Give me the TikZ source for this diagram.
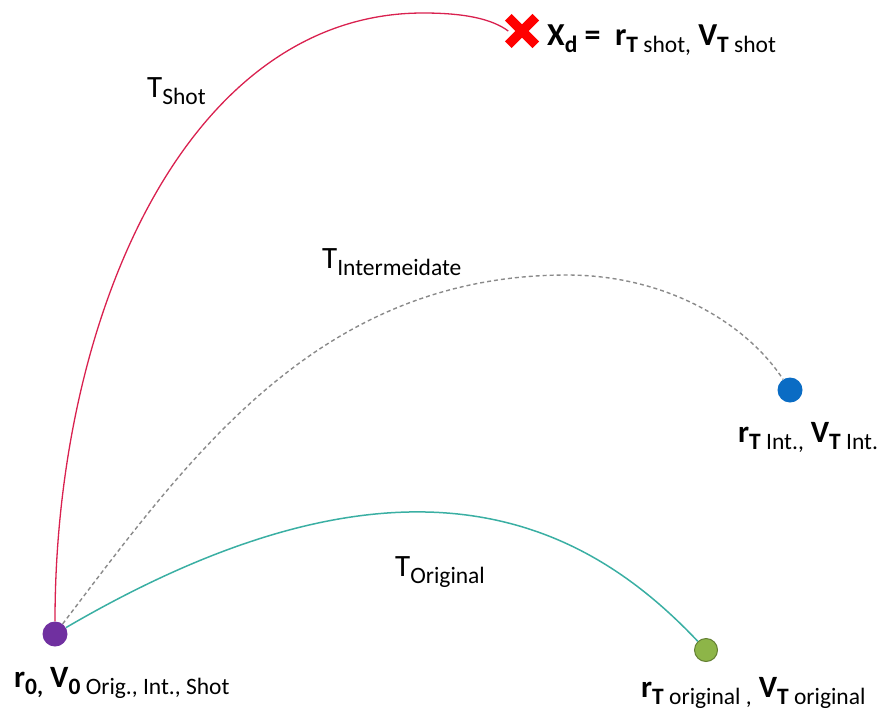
\documentclass[tikz,border=0pt]{standalone}
\usepackage{fontspec}
\setmainfont{Carlito}
\usetikzlibrary{shapes.misc}
\definecolor{shotred}{HTML}{D9214F}
\definecolor{intgray}{HTML}{8A8A8A}
\definecolor{origteal}{HTML}{3AAFA3}
\definecolor{startpurple}{HTML}{7030A0}
\definecolor{intblue}{HTML}{0A6CC4}
\definecolor{origgreen}{HTML}{8DB548}
\newcommand\lowtext[1]{\raisebox{-7pt}{\fontsize{23.5}{25}\selectfont #1}}
\tikzset{
  every node/.style={font=\fontsize{31}{34}\selectfont},
  shot/.style={draw=shotred,line width=1.3pt},
  inter/.style={draw=intgray,line width=1.4pt,dash pattern=on 4pt off 3pt},
  orig/.style={draw=origteal,line width=1.5pt},
  dot/.style={circle,inner sep=0pt,minimum size=25pt},
  lbl/.style={anchor=base west,inner sep=0pt}}
\begin{document}
\begin{tikzpicture}[x=1pt,y=-1pt]
\useasboundingbox (0,0) rectangle (886,715);
% end points
\node[dot,fill=startpurple] (r0) at (55,634) {};
\node[dot,fill=intblue] (rTi) at (790,390) {};
\node[dot,fill=origgreen,draw=origgreen!70!black,line width=1pt,minimum size=23pt] (rTo) at (706,650) {};
\node[cross out,draw=red,line width=9.5pt,minimum size=18pt,inner sep=0pt] (xd) at (522,31) {};
\coordinate (pkS) at (423,13);
\coordinate (pkI) at (567,275);
% trajectories
\draw[shot] (r0) .. controls (55,314) and (188,13) .. (pkS) .. controls (465,13) and (492,19) .. (xd.west);
\draw[inter] (r0) .. controls (188,459) and (317,275) .. (pkI) .. controls (667,275) and (747,324) .. (rTi);
\draw[orig] (r0) .. controls (408,428) and (586,523) .. (rTo);
% labels
\node[lbl] (tS) at (147,97) {T\lowtext{Shot}};
\node[lbl] (tI) at (322,268) {T\lowtext{Intermeidate}};
\node[lbl] (tO) at (395,576) {T\lowtext{Original}};
\node[lbl,font=\fontsize{32}{34}\selectfont] (lxd) at (547,45) {\bfseries X\lowtext{\bfseries d} =\ \ r\lowtext{\bfseries T \mdseries shot,} V\lowtext{\bfseries T \mdseries shot}};
\node[lbl] (lrTi) at (738,442) {\bfseries r\lowtext{\bfseries T \mdseries Int.,} V\lowtext{\bfseries T \mdseries Int.}};
\node[lbl] (lrTo) at (641,697) {\bfseries r\lowtext{\bfseries T \mdseries original ,} V\lowtext{\bfseries T \mdseries original}};
\node[lbl] (lr0) at (14,687) {\bfseries r\lowtext{\bfseries 0,} V\lowtext{\bfseries 0 \mdseries Orig., Int., Shot}};
\end{tikzpicture}
\end{document}
